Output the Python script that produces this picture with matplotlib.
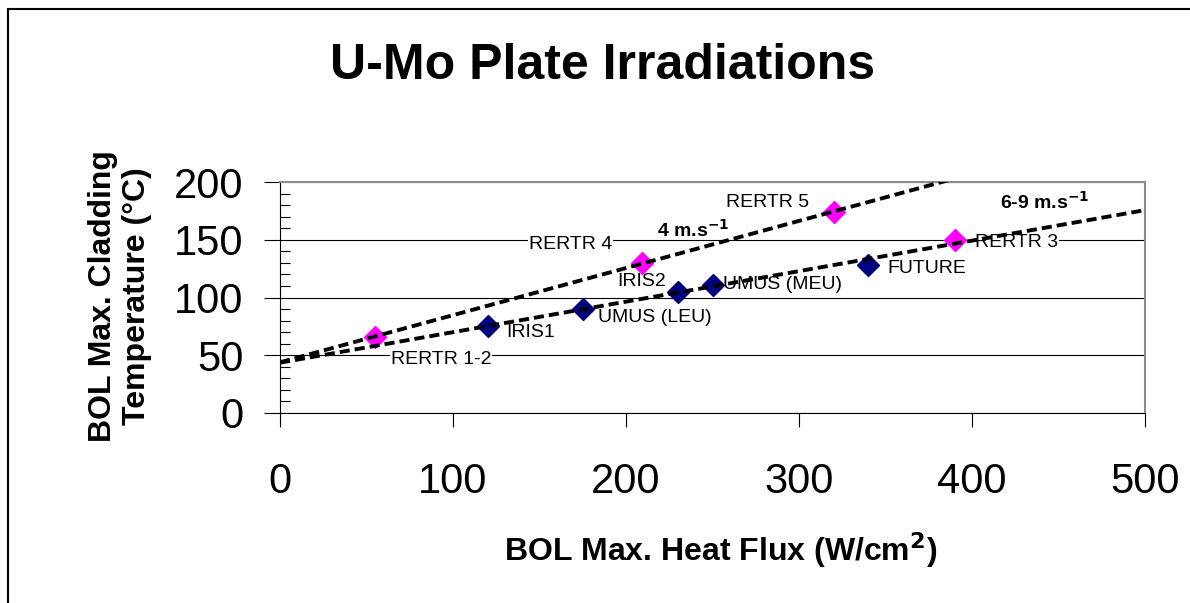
import numpy as np
import matplotlib
matplotlib.use("Agg")
import matplotlib.pyplot as plt
from matplotlib.patches import Rectangle

plt.rcParams['font.family'] = ['Liberation Sans', 'DejaVu Sans']

# 4 m/s irradiations (magenta) and 6-9 m/s ones (navy)
pink_names = ["RERTR 1-2", "RERTR 4", "RERTR 5", "RERTR 3"]
pink_flux = [55, 209, 320, 390]
pink_temp = [66, 130, 174, 150]

navy_names = ["IRIS1", "UMUS (LEU)", "IRIS2", "UMUS (MEU)", "FUTURE"]
navy_flux = [120, 175, 230, 250, 340]
navy_temp = [75, 90, 105, 111, 128]

# groups used for the two linear trend lines
fit4_flux = [55, 209, 320]
fit4_temp = [66, 130, 174]
fit69_flux = [120, 175, 230, 250, 340, 390]
fit69_temp = [75, 90, 105, 111, 128, 150]

# label text and where it sits (data coords, left/centre)
label_text = ["RERTR 4", "IRIS2", "RERTR 5", "RERTR 3", "FUTURE",
              "UMUS (MEU)", "UMUS (LEU)", "IRIS1", "RERTR 1-2"]
label_x = [144, 195, 258, 402, 351, 256, 184, 131, 64]
label_y = [146, 114, 182, 148, 125.5, 111, 83, 70, 46]

W, H = 1190, 603
fig = plt.figure(figsize=(W / 100, H / 100), dpi=100)
ax = fig.add_axes([280 / W, 1 - 413 / H, 865 / W, 231 / H])

# outer chart border (only top & left visible)
fig.add_artist(Rectangle((8 / W, -0.2), 1.2, 1.2 - 9 / H,
                         transform=fig.transFigure, fill=False,
                         lw=1.5, ec='black', clip_on=False))

xs = np.array([0, 500])
p4 = np.polyfit(fit4_flux, fit4_temp, 1)
p69 = np.polyfit(fit69_flux, fit69_temp, 1)
ax.plot(xs, np.polyval(p4, xs), color='black', lw=2.8, ls=(0, (2.6, 1.3)), zorder=4)
ax.plot(xs, np.polyval(p69, xs), color='black', lw=2.8, ls=(0, (2.6, 1.3)), zorder=4)

ax.plot(pink_flux, pink_temp, 'D', color='#FF00FF', ms=11, mec='#FF00FF', zorder=3)
ax.plot(navy_flux, navy_temp, 'D', color='#000080', ms=11, mec='#000080', zorder=3)

for t, x, y in zip(label_text, label_x, label_y):
    ax.text(x, y, t, fontsize=14, ha='left', va='center', zorder=1.5,
            bbox=dict(fc='white', ec='none', pad=0.5))

ax.text(218, 159, "4 m.s$^{\\mathbf{-1}}$", fontsize=14, fontweight='bold',
        ha='left', va='center', zorder=1.5)
ax.text(416, 183, "6-9 m.s$^{\\mathbf{-1}}$", fontsize=14, fontweight='bold',
        ha='left', va='center', zorder=1.5)

ax.set_xlim(0, 500)
ax.set_ylim(0, 200)
ax.set_xticks(np.arange(0, 501, 100))
ax.set_yticks(np.arange(0, 201, 50))
ax.set_yticks(np.arange(0, 201, 10), minor=True)
ax.tick_params(axis='x', direction='out', length=10, width=0.8, pad=25, labelsize=30)
ax.tick_params(axis='y', which='major', direction='out', length=11.5, width=0.8,
               pad=15, labelsize=30)
ax.tick_params(axis='y', which='minor', direction='in', length=7, width=0.8)
ax.tick_params(axis='x', which='minor', length=0)

ax.set_axisbelow(True)
ax.yaxis.grid(True, which='major', color='black', lw=0.8)
for s in ['top', 'right']:
    ax.spines[s].set_color('#8c8c8c')
    ax.spines[s].set_linewidth(1.5)
for s in ['left', 'bottom']:
    ax.spines[s].set_color('black')
    ax.spines[s].set_linewidth(0.8)

fig.text(602 / W, 1 - 66 / H, "U-Mo Plate Irradiations", fontsize=36,
         fontweight='bold', ha='center', va='center')
fig.text(721 / W, 1 - 550 / H, "BOL Max. Heat Flux (W/cm$^{\\mathbf{2}}$)", fontsize=23,
         fontweight='bold', ha='center', va='center')
fig.text(120 / W, 1 - 296 / H, "BOL Max. Cladding\nTemperature (°C)", fontsize=23,
         fontweight='bold', ha='center', va='center', rotation=90,
         multialignment='center', linespacing=1.15)

fig.savefig("out.png", dpi=100)
